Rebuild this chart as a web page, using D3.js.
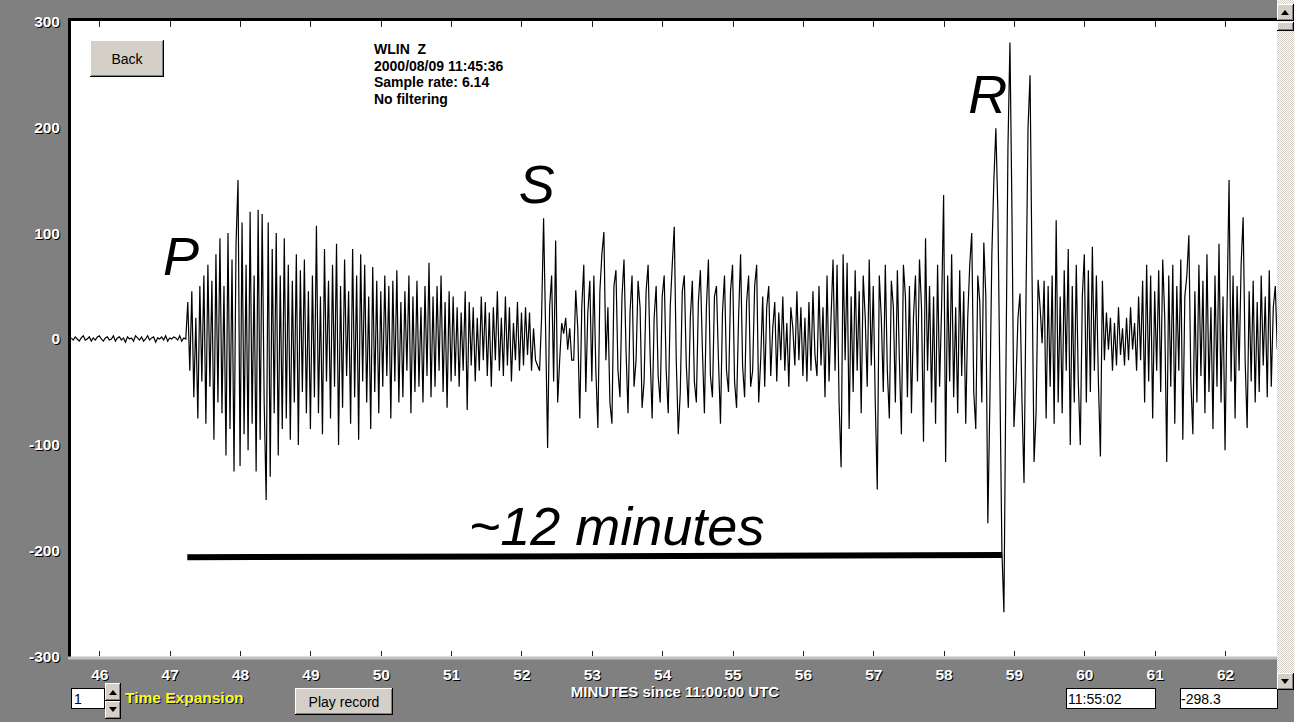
<!DOCTYPE html>
<html><head><meta charset="utf-8">
<script src="https://cdn.jsdelivr.net/npm/d3@7"></script>
<style>
html,body{margin:0;padding:0;background:#808080;overflow:hidden;}
svg{display:block;font-family:"Liberation Sans",Arial,sans-serif;}
</style></head><body>
<svg id="chart" width="1294" height="722"></svg>
<script>
// ---------- data ----------
const xTicks = [46,47,48,49,50,51,52,53,54,55,56,57,58,59,60,61,62];
const yTicks = [300,200,100,0,-100,-200,-300];
const xDomain = [45.6, 62.74];
const yDomain = [-300, 300];
const traceStart = 45.6;      // minutes since 11:00:00 UTC
const traceStep = 1/35;       // minutes per plotted sample
const traceValues = [
  // 45.6 - 47.26 quiet
  1,-1,2,0,-2,1,3,-1,0,2,-2,1,-1,2,3,0,-2,1,2,-1,0,3,-2,1,2,-1,1,-3,2,0,
  1,-2,3,1,-1,2,-2,0,3,-1,1,2,-3,1,0,2,-1,3,-2,1,0,2,1,-1,3,-2,1,0,
  // P arrival 47.26 - 48
  35,-30,45,-55,20,-75,50,-40,60,-80,70,-45,55,-95,80,-60,95,-70,50,-110,
  100,-85,75,-125,90,150,-120,
  // 48 - 49
  110,-90,70,-105,120,-80,60,-125,122,-95,118,-60,-152,110,-130,85,-70,100,-110,60,
  -85,95,-75,70,-95,55,-60,80,-100,65,-50,75,-70,45,-85,
  // 49 - 50
  60,-55,107,-70,40,-90,85,-40,55,-75,70,-45,90,-100,50,-65,75,-35,45,-80,
  85,-55,60,-95,80,-40,70,-60,40,-85,68,-50,55,-70,45,
  // 50 - 51
  -45,60,-35,50,-75,55,-40,65,-60,35,-55,45,-30,60,-70,40,-50,55,-45,30,
  -60,50,-35,72,-55,40,-45,50,-30,60,-50,35,-65,45,-40,
  // 51 - 52
  40,-35,30,-45,25,-30,45,-67,35,-25,30,-40,20,-30,40,-20,35,-35,25,-45,
  30,-20,45,-30,20,-35,40,-25,30,-40,15,-20,35,-30,25,
  // 52 - 53 (S)
  -25,30,-15,25,-30,10,-20,-25,-30,20,114,10,-103,30,60,-40,93,-60,-20,15,
  5,20,-10,10,-20,-20,46,10,-75,30,70,-50,25,55,-40,
  // 53 - 54
  60,-30,-84,45,80,101,-20,30,-60,-80,50,65,-30,-55,40,75,-10,-70,25,60,
  -45,-20,55,30,-65,-40,45,70,-15,-75,20,50,-35,-60,40,
  // 54 - 55
  60,-30,-70,30,70,106,-20,-90,-50,45,60,-25,-65,20,55,-40,-60,35,65,-10,
  -70,30,75,-35,-55,40,50,-20,-80,25,60,-30,-50,45,70,
  // 55 - 56
  -40,-65,20,80,-25,-55,35,60,-45,-30,50,70,-60,-20,40,-45,30,50,-35,10,
  35,-40,25,-20,40,-30,15,-45,30,10,-25,45,-20,30,-35,
  // 56 - 57
  20,-40,35,-30,45,-15,-35,50,-25,30,-55,60,-40,20,75,-30,70,-60,-121,80,
  -20,72,-85,40,-50,65,-30,45,-70,60,20,-45,75,-25,50,
  // 57 - 58
  -60,-142,60,20,-50,70,-30,-75,55,30,-60,65,-20,-90,70,40,-55,50,-70,20,
  60,-40,75,30,-97,95,-30,50,-60,40,-80,70,-45,30,136,
  // 58 - 59 (R)
  -116,60,-40,80,-55,30,-70,65,-35,45,-80,20,70,100,-50,-85,60,35,-60,91,
  40,-174,-60,80,150,199,120,-40,-200,-258,-30,180,280,120,-83,
  // 59 - 60
  -40,20,43,-60,-136,40,200,249,60,-116,-70,56,30,-4,55,-75,50,-45,60,-80,
  112,-60,40,-70,65,-30,85,-100,50,-60,70,-40,-100,40,80,
  // 60 - 61
  -60,65,-50,87,-30,60,-40,-111,55,-20,25,-10,20,-30,15,-25,30,-15,10,-25,
  20,-20,30,-10,15,-30,40,-20,55,-60,70,-40,60,-75,45,
  // 61 - 62
  -30,65,-50,75,20,-116,60,-45,70,-80,50,-30,75,-95,40,60,98,-40,-90,45,
  -60,70,-35,55,-70,80,-50,30,-85,60,-45,90,-60,40,-105,
  // 62 - 62.74
  30,150,-40,60,-75,50,-30,70,115,-20,-84,45,-40,55,-60,35,-50,60,-25,40,
  -55,65,-45,30,50,-10
];
const infoLines = ["WLIN  Z", "2000/08/09 11:45:36", "Sample rate: 6.14", "No filtering"];
const annotations = [
  {text: "P", minute: 46.905, value: 60},
  {text: "S", minute: 51.96, value: 128},
  {text: "R", minute: 58.35, value: 213},
  {text: "~12 minutes", minute: 51.25, value: -194}
];
const bracket = [{minute: 47.25, value: -206}, {minute: 58.83, value: -204}];
const xTitle = "MINUTES since 11:00:00 UTC";
const timeReadout = "11:55:02";
const valueReadout = "-298.3";

// ---------- drawing ----------
const svg = d3.select("#chart");
const defs = svg.append("defs");
const pat = defs.append("pattern").attr("id","checker").attr("width",2).attr("height",2).attr("patternUnits","userSpaceOnUse");
pat.append("rect").attr("width",2).attr("height",2).attr("fill","#ffffff");
pat.append("rect").attr("width",1).attr("height",1).attr("fill","#d4d0c8");
pat.append("rect").attr("x",1).attr("y",1).attr("width",1).attr("height",1).attr("fill","#d4d0c8");
defs.append("clipPath").attr("id","plotClip").append("rect")
  .attr("x",71).attr("y",21).attr("width",1206).attr("height",636);

svg.append("rect").attr("width",1294).attr("height",722).attr("fill","#808080");

const x = d3.scaleLinear().domain(xDomain).range([71.2, 1277.1]);
const y = d3.scaleLinear().domain(yDomain).range([656.8, 21.2]);

function addShadow(textSel, color) {
  textSel.each(function() {
    const t = d3.select(this);
    const c = t.clone(true).attr("fill", color)
      .attr("transform", (t.attr("transform") || "") + " translate(1,1)");
    this.parentNode.insertBefore(c.node(), this);
  });
}

// plot area
svg.append("rect").attr("x",71).attr("y",21).attr("width",1206).attr("height",636).attr("fill","#fff");
svg.append("rect").attr("x",68).attr("y",18).attr("width",3).attr("height",639).attr("fill","#000");
svg.append("rect").attr("x",68).attr("y",18).attr("width",1209).attr("height",3).attr("fill","#000");
svg.append("rect").attr("x",68).attr("y",656.5).attr("width",1209).attr("height",3).attr("fill","#c0c0c0");

// inner tick marks (top and bottom)
const topTicks = svg.append("g").attr("transform","translate(0,21)")
  .call(d3.axisBottom(x).tickValues(xTicks).tickSize(6).tickFormat(""));
const botTicks = svg.append("g").attr("transform","translate(0,656)")
  .call(d3.axisTop(x).tickValues(xTicks).tickSize(5).tickFormat(""));
[topTicks, botTicks].forEach(g => {
  g.select(".domain").remove();
  g.selectAll("line").attr("stroke","#222").attr("shape-rendering","crispEdges");
});

// x labels
const xAx = svg.append("g").attr("transform","translate(0,659)")
  .call(d3.axisBottom(x).tickValues(xTicks).tickSize(0).tickPadding(10).tickFormat(d => String(d)));
xAx.select(".domain").remove();
xAx.selectAll("text").attr("fill","#fff").attr("font-size",15.5).attr("font-weight","bold")
  .attr("font-family","'Liberation Sans',Arial,sans-serif");
addShadow(xAx.selectAll("text"), "#000");

// y labels
const yAx = svg.append("g").attr("transform","translate(60,0)")
  .call(d3.axisLeft(y).tickValues(yTicks).tickSize(0).tickPadding(0).tickFormat(d => String(d)));
yAx.select(".domain").remove();
yAx.selectAll("text").attr("fill","#fff").attr("font-size",15.5).attr("font-weight","bold")
  .attr("font-family","'Liberation Sans',Arial,sans-serif");
addShadow(yAx.selectAll("text"), "#000");

// trace
const line = d3.line()
  .x((d,i) => x(traceStart + i*traceStep))
  .y(d => y(d));
svg.append("g").attr("clip-path","url(#plotClip)")
  .append("path").datum(traceValues)
  .attr("d", line).attr("fill","none").attr("stroke","#000").attr("stroke-width",1.2)
  .attr("stroke-linejoin","miter");

// annotations
svg.selectAll("text.anno").data(annotations).join("text")
  .attr("class","anno")
  .attr("x", d => x(d.minute)).attr("y", d => y(d.value))
  .attr("font-size", 54).attr("font-style","italic").attr("fill","#000")
  .text(d => d.text);
svg.append("line")
  .attr("x1", x(bracket[0].minute)).attr("y1", y(bracket[0].value))
  .attr("x2", x(bracket[1].minute)).attr("y2", y(bracket[1].value))
  .attr("stroke","#000").attr("stroke-width",6);

// info text
svg.append("g").selectAll("text").data(infoLines).join("text")
  .attr("x",374).attr("y",(d,i)=>54 + i*16.6)
  .attr("font-size",14).attr("font-weight","bold").attr("fill","#000")
  .style("white-space","pre")
  .text(d=>d);

// buttons
function button(x0, y0, w, h, label) {
  const g = svg.append("g");
  g.append("rect").attr("x",x0).attr("y",y0).attr("width",w).attr("height",h).attr("fill","#000");
  g.append("rect").attr("x",x0).attr("y",y0).attr("width",w-1).attr("height",h-1).attr("fill","#fff");
  g.append("rect").attr("x",x0+1).attr("y",y0+1).attr("width",w-2).attr("height",h-2).attr("fill","#808080");
  g.append("rect").attr("x",x0+1).attr("y",y0+1).attr("width",w-3).attr("height",h-3).attr("fill","#d4d0c8");
  if (label) {
    g.append("text").attr("x",x0+w/2).attr("y",y0+h/2+5).attr("text-anchor","middle")
      .attr("font-size",14).attr("fill","#000").text(label);
  }
  return g;
}
button(90, 40, 74, 37, "Back");
button(295, 688, 98, 27, "Play record");

// spinner + time expansion
svg.append("rect").attr("x",71.5).attr("y",688.5).attr("width",33).attr("height",20).attr("fill","#fff").attr("stroke","#000");
svg.append("text").attr("x",74).attr("y",704).attr("font-size",14).attr("fill","#000").text("1");
const up = button(105, 683, 16, 18);
up.append("path").attr("d","M109,695 L117,695 L113,690 Z").attr("fill","#000");
const dn = button(105, 701, 16, 18);
dn.append("path").attr("d","M109,707 L117,707 L113,712 Z").attr("fill","#000");
const te = svg.append("text").attr("x",125).attr("y",703).attr("font-size",15.5).attr("font-weight","bold")
  .attr("fill","#ffff00").text("Time Expansion");
addShadow(te, "#0000c0");

// axis title
const xt = svg.append("text").attr("x",675).attr("y",697).attr("text-anchor","middle")
  .attr("font-size",15).attr("font-weight","bold").attr("fill","#fff")
  .text(xTitle);
addShadow(xt, "#000");

// readout boxes
svg.append("rect").attr("x",1066.5).attr("y",688.5).attr("width",89).attr("height",20).attr("fill","#fff").attr("stroke","#000");
svg.append("text").attr("x",1068).attr("y",704).attr("font-size",14).attr("fill","#000").text(timeReadout);
svg.append("rect").attr("x",1180.5).attr("y",688.5).attr("width",97).attr("height",20).attr("fill","#fff").attr("stroke","#000");
svg.append("text").attr("x",1181).attr("y",704).attr("font-size",14).attr("fill","#000").text(valueReadout);

// scrollbar
svg.append("rect").attr("x",1277).attr("y",0).attr("width",17).attr("height",690).attr("fill","url(#checker)");
const sUp = button(1277, 4, 17, 17);
sUp.append("path").attr("d","M1281,15 L1289,15 L1285,10 Z").attr("fill","#000");
button(1277, 22, 17, 9);
const sDn = button(1277, 673, 17, 17);
sDn.append("path").attr("d","M1281,679 L1289,679 L1285,684 Z").attr("fill","#000");
</script>
</body></html>
